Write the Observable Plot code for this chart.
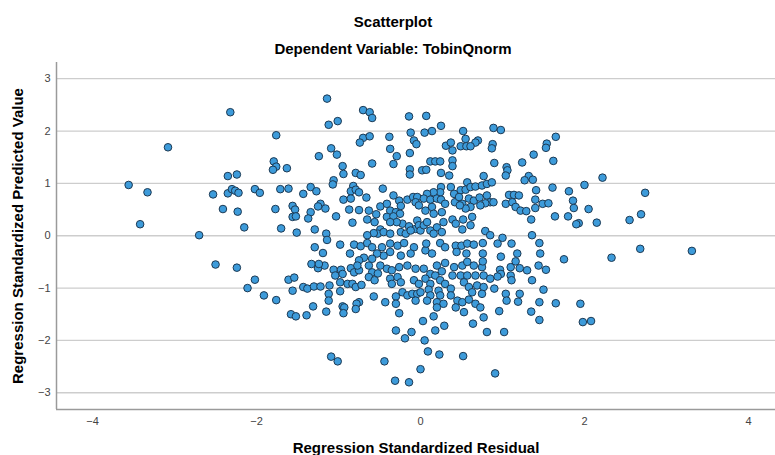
<!DOCTYPE html>
<html><head><meta charset="utf-8">
<script src="https://cdn.jsdelivr.net/npm/d3@7"></script>
<script src="https://cdn.jsdelivr.net/npm/@observablehq/plot@0.6"></script>
<style>
html,body{margin:0;padding:0;background:#fff;}
#wrap{position:relative;width:775px;height:455px;overflow:hidden;font-family:"Liberation Sans",Arial,sans-serif;}
.t{position:absolute;left:0;width:786px;text-align:center;font-weight:bold;font-size:15px;line-height:17px;color:#000;white-space:nowrap;}
#chart{position:absolute;left:0;top:62px;}
</style></head><body>
<div id="wrap">
<div class="t" style="top:13px">Scatterplot</div>
<div class="t" style="top:40px">Dependent Variable: TobinQnorm</div>
<div id="chart"></div>
</div>
<script>
const xTicks = [-4, -2, 0, 2, 4];
const yTicks = [-3, -2, -1, 0, 1, 2, 3];
const xLabel = "Regression Standardized Residual";
const yLabel = "Regression Standardized Predicted Value";

// [standardized residual, standardized predicted value]
const pointsLeft = [
 [-2.32,2.36],[-3.08,1.69],[-1.76,1.92],[-3.56,0.97],[-3.33,0.83],[-1.79,1.42],[-1.76,1.32],[-1.80,1.26],[-1.63,1.29],[-2.35,1.14],
 [-2.24,1.17],[-2.53,0.79],[-2.35,0.81],[-2.30,0.89],[-2.26,0.86],[-2.22,0.82],[-2.02,0.89],[-1.96,0.82],[-1.71,0.89],[-1.61,0.90],
 [-2.41,0.51],[-2.23,0.46],[-1.77,0.51],[-1.56,0.57],[-1.53,0.50],[-1.56,0.36],[-1.52,0.37],[-3.42,0.22],[-2.15,0.16],[-1.70,0.14],
 [-1.51,0.06],[-2.70,0.01],
 [-2.50,-0.55],[-2.24,-0.61],[-2.02,-0.84],[-2.11,-1.00],[-1.91,-1.14],[-1.76,-1.23],[-1.61,-0.84],[-1.54,-0.80],[-1.56,-1.05],
 [-1.58,-1.50],[-1.52,-1.54]
];
const pointsRight = [
 [1.65,1.89],[1.54,1.76],[1.53,1.68],[1.62,1.43],[2.22,1.11],[1.61,0.92],[2.00,0.97],[1.81,0.85],[2.74,0.82],[1.86,0.67],
 [1.87,0.53],[2.05,0.51],[1.49,0.61],[1.56,0.62],[1.64,0.37],[1.80,0.37],[1.93,0.24],[1.90,0.22],[2.15,0.25],[2.55,0.30],[2.69,0.41],
 [1.53,-0.65],[1.75,-0.45],[2.33,-0.42],[2.68,-0.25],[3.31,-0.29],[1.65,-1.29],[1.95,-1.30],[1.98,-1.65],[2.08,-1.63]
];
const pointsTop = [
 [-1.14,2.62],[-0.70,2.40],[-0.62,2.36],[-0.59,2.25],[-0.14,2.28],[0.07,2.29],[-1.12,2.12],[-1.01,2.19],[0.25,2.10],[-0.12,1.97],
 [0.05,1.97],[0.14,2.00],[0.52,2.00],[0.89,2.06],[0.98,2.02],[-0.70,1.87],[-0.74,1.78],[-0.62,1.90],[-0.38,1.89],[-0.08,1.82],
 [-0.05,1.75],[0.55,1.85],[0.70,1.82],[0.67,1.78],[0.31,1.72],[0.37,1.78],[0.49,1.71],[0.56,1.71],[0.61,1.71],[0.88,1.75],
 [0.87,1.67],[-1.09,1.67],[-0.37,1.66],[0.39,1.63]
];
const pointsUpperLeft = [
 [-1.24,1.52],[-1.02,1.55],[-0.95,1.33],[-0.94,1.18],[-0.79,1.20],[-0.73,1.16],[-0.59,1.38],[-0.29,1.52],[-0.33,1.37],[-0.13,1.58],
 [-0.13,1.27],[-0.13,1.17],[0.02,1.25],[-1.06,1.06],[-1.07,0.98],[-1.34,0.93],[-1.27,0.85],[-1.43,0.80],[-0.82,0.95],[-0.85,0.85],
 [-0.79,0.88],[-0.75,0.83],[-0.94,0.69],[-0.85,0.71],[-0.46,0.90],[-0.66,0.73],[-1.22,0.61],[-1.25,0.56],[-1.16,0.52],[-1.34,0.45],
 [-1.37,0.33],[-0.87,0.50],[-0.75,0.49],[-0.63,0.48],[-1.03,0.37],[-0.83,0.25],[-0.65,0.31],[-0.54,0.41],[-0.49,0.56],[-0.41,0.61],
 [-0.33,0.77],[-0.26,0.67],[-0.24,0.57],[-0.16,0.69],[-0.09,0.74],[-0.04,0.74],[-0.06,0.64],[-0.02,0.58],[-0.37,0.48],[-0.30,0.45],
 [-0.25,0.42],[-0.41,0.36],[-0.33,0.37],[-0.22,0.23],[-0.14,0.18],[-0.04,0.29],[-0.06,0.13],[-0.02,0.20],[-0.29,0.26],[-0.37,0.26],
 [-0.56,0.26],[-1.29,0.12],[-1.15,0.04],[-1.14,-0.08],[-0.49,0.12],[-0.52,0.04],[-0.45,0.07],[-0.57,0.05],[-0.37,0.04],[-0.65,0.01],
 [-0.24,0.07],[-0.18,0.04],[-0.12,0.10],[0.00,0.10]
];
const pointsUpperRight = [
 [0.12,1.42],[0.18,1.42],[0.24,1.42],[0.39,1.44],[0.39,1.33],[0.25,1.20],[0.35,1.15],[0.07,1.26],[0.90,1.39],[1.05,1.31],
 [1.06,1.25],[1.04,1.15],[1.24,1.40],[1.38,1.55],[1.32,1.14],[1.27,1.06],[1.37,1.07],[0.77,1.14],[0.57,1.02],[0.49,0.87],
 [0.55,0.88],[0.61,0.93],[0.67,0.94],[0.75,0.96],[0.81,0.99],[0.87,1.02],[0.37,0.93],[0.25,0.93],[0.24,0.83],[0.16,0.83],
 [0.08,0.80],[0.04,0.71],[0.12,0.69],[0.20,0.71],[0.25,0.69],[0.30,0.61],[0.42,0.64],[0.51,0.61],[0.59,0.71],[0.65,0.67],
 [0.72,0.73],[0.81,0.77],[0.85,0.64],[0.89,0.64],[0.79,0.62],[0.73,0.58],[0.61,0.55],[0.55,0.52],[0.48,0.58],[0.41,0.80],
 [0.47,0.74],[1.08,0.78],[1.14,0.78],[1.20,0.77],[1.04,0.61],[1.12,0.64],[1.16,0.55],[1.22,0.48],[1.29,0.47],[1.40,0.69],
 [1.40,0.53],[1.41,0.87],[0.14,0.55],[0.16,0.42],[0.06,0.48],[0.26,0.45],[0.39,0.31],[0.52,0.31],[0.63,0.36],[0.61,0.20],
 [0.51,0.12],[0.43,0.23],[0.28,0.26],[0.20,0.16],[0.12,0.10],[0.04,0.20],[0.08,0.26],[0.26,0.07],[0.16,0.04],[0.79,0.09],
 [0.85,0.01],[1.00,-0.04],[1.35,0.31],[1.36,0.01]
];
const pointsLowerLeft = [
 [-1.29,-0.22],[-1.19,-0.33],[-0.98,-0.17],[-0.86,-0.34],[-0.81,-0.17],[-0.73,-0.20],[-0.65,-0.14],[-0.59,-0.22],[-0.47,-0.22],[-0.37,-0.15],
 [-0.28,-0.19],[-0.20,-0.14],[-0.08,-0.22],[-0.12,-0.34],[-0.24,-0.38],[-0.37,-0.31],[-0.45,-0.38],[-0.53,-0.34],[-0.59,-0.44],[-0.69,-0.42],
 [-0.75,-0.47],[-1.33,-0.54],[-1.25,-0.62],[-1.17,-0.57],[-1.24,-0.54],[-1.06,-0.65],[-0.97,-0.65],[-1.04,-0.76],[-0.95,-0.73],[-0.85,-0.62],
 [-0.81,-0.70],[-0.75,-0.66],[-0.77,-0.57],[-0.63,-0.57],[-0.59,-0.70],[-0.52,-0.72],[-0.49,-0.57],[-0.41,-0.63],[-0.35,-0.66],[-0.26,-0.60],
 [-0.16,-0.57],[-0.06,-0.63],[-0.98,-0.89],[-0.89,-0.92],[-0.83,-0.92],[-0.79,-0.98],[-0.72,-0.94],[-0.63,-0.79],[-0.56,-0.85],[-0.37,-0.82],
 [-0.28,-0.79],[-0.24,-0.89],[-0.35,-0.92],[-0.08,-0.85],[-0.02,-0.92],[-1.43,-0.98],[-1.38,-1.01],[-1.30,-0.97],[-1.22,-0.97],[-1.11,-0.95],
 [-1.12,-1.11],[-1.12,-1.24],[-0.98,-1.06],[-0.57,-1.16],[-0.43,-1.27],[-0.30,-1.16],[-0.30,-1.30],[-0.22,-1.08],[-0.16,-1.14],[-0.10,-1.11],
 [-0.04,-1.11],[-0.06,-1.24],[-0.75,-1.27],[-0.78,-1.30],[-0.95,-1.35],[-0.93,-1.37],[-0.79,-1.40],[-1.31,-1.35],[-1.15,-1.45],[-0.94,-1.48],
 [-1.39,-1.52],[-0.26,-1.48],[-0.30,-1.81],[-0.11,-1.84]
];
const pointsLowerRight = [
 [0.06,-0.28],[0.14,-0.34],[0.07,-0.15],[0.24,-0.14],[0.30,-0.22],[0.43,-0.19],[0.50,-0.19],[0.57,-0.15],[0.65,-0.17],[0.76,-0.14],
 [0.94,-0.15],[1.11,-0.15],[1.45,-0.14],[0.44,-0.31],[0.56,-0.34],[0.76,-0.34],[0.98,-0.40],[1.18,-0.34],[1.46,-0.34],[0.20,-0.57],
 [0.30,-0.52],[0.41,-0.60],[0.51,-0.57],[0.57,-0.50],[0.65,-0.57],[0.75,-0.60],[0.76,-0.49],[0.97,-0.65],[0.98,-0.73],[1.10,-0.60],
 [1.16,-0.49],[1.21,-0.62],[1.30,-0.66],[1.44,-0.57],[0.04,-0.63],[0.12,-0.73],[0.18,-0.76],[0.26,-0.68],[0.39,-0.76],[0.49,-0.76],
 [0.57,-0.76],[0.67,-0.76],[0.77,-0.76],[0.85,-0.82],[0.94,-0.78],[1.10,-0.76],[1.11,-0.85],[1.36,-0.85],[0.06,-0.82],[0.12,-0.92],
 [0.24,-0.85],[0.30,-0.92],[0.53,-0.89],[0.59,-0.98],[0.69,-0.95],[0.77,-0.98],[0.63,-1.08],[0.75,-1.11],[0.90,-1.01],[1.50,-1.03],
 [0.00,-1.08],[0.10,-1.03],[0.22,-1.05],[0.37,-1.01],[0.12,-1.14],[0.24,-1.14],[0.37,-1.14],[0.08,-1.24],[0.20,-1.27],[0.28,-1.30],
 [0.45,-1.24],[0.51,-1.27],[0.59,-1.22],[0.67,-1.30],[0.73,-1.37],[0.43,-1.37],[1.04,-1.11],[1.21,-1.11],[1.05,-1.24],[1.19,-1.26],
 [1.45,-1.27],[0.20,-1.37],[0.53,-1.46],[0.16,-1.54],[0.77,-1.56],[0.96,-1.44],[1.35,-1.45],[1.45,-1.61],[0.03,-1.63],[0.29,-1.72],
 [0.18,-1.81],[0.64,-1.68],[0.81,-1.84],[1.02,-1.84]
];
const pointsBottom = [
 [-0.19,-1.96],[0.05,-2.00],[0.09,-2.21],[0.23,-2.27],[0.52,-2.30],[-1.09,-2.31],[-1.01,-2.40],[-0.44,-2.40],[0.00,-2.55],[0.91,-2.63],
 [-0.31,-2.77],[-0.14,-2.80]
];

const points = [].concat(pointsLeft, pointsRight, pointsTop, pointsUpperLeft, pointsUpperRight,
  pointsLowerLeft, pointsLowerRight, pointsBottom).map(([residual, predicted]) => ({residual, predicted}));

const xDomain = [-4.44, 4.33];
const yDomain = [-3.32, 3.31];
const intFormat = d3.format("d");

const chart = Plot.plot({
  width: 775,
  height: 393,
  marginTop: 0,
  marginBottom: 46,
  marginLeft: 56,
  marginRight: 0,
  style: {fontFamily: "'Liberation Sans', Arial, sans-serif", fontSize: "11px", color: "#444", background: "transparent", overflow: "visible"},
  x: {domain: xDomain, ticks: xTicks, tickFormat: intFormat, tickSize: 0, tickPadding: 8, label: xLabel, labelAnchor: "center", labelOffset: 43, labelArrow: "none"},
  y: {domain: yDomain, ticks: yTicks, tickFormat: intFormat, tickSize: 0, tickPadding: 6, label: yLabel, labelAnchor: "center", labelOffset: 44, labelArrow: "none"},
  marks: [
    Plot.gridY(yTicks, {stroke: "#cdcdcd", strokeOpacity: 1, strokeWidth: 1.3}),
    Plot.ruleX([xDomain[0]], {stroke: "#9a9a9a", strokeWidth: 1.5}),
    Plot.ruleY([yDomain[0]], {stroke: "#9a9a9a", strokeWidth: 1.5}),
    Plot.dot(points, {x: "residual", y: "predicted", r: 3.8, fill: "#3d9bda", fillOpacity: 1, stroke: "#1c3953", strokeWidth: 1})
  ]
});
document.getElementById("chart").appendChild(chart);
d3.select(chart).selectAll('g[aria-label="x-axis label"] text, g[aria-label="y-axis label"] text')
  .attr("font-size", 15).attr("font-weight", "bold").attr("fill", "#000");
</script>
</body></html>
